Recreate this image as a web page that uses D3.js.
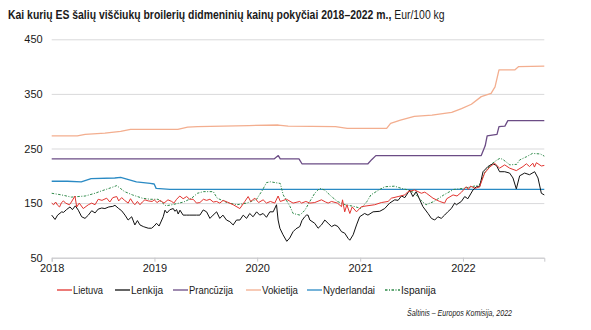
<!DOCTYPE html>
<meta charset="utf-8">
<style>
  body { margin: 0; background: #fff; }
  svg { display: block; font-family: "Liberation Sans", "DejaVu Sans", sans-serif; }
  .grid line { stroke: #d9d9db; }
  .grid .domain { display: none; }
  .grid text { fill: #1a1a1a; font-size: 11px; }
  .xaxis .domain, .xaxis line { stroke: #c8c8cc; }
  .xaxis text { fill: #1a1a1a; font-size: 11px; }
  .series { fill: none; stroke-linejoin: round; }
</style>
<body></body>
<script src="https://d3js.org/d3.v7.min.js"></script>
<script>

// [week since 2018-01-01, Eur/100 kg]
var lietuva = [[0,150],[1,147],[2,152],[3,146],[4,143],[5,151],[6,154],[7,150],[9,147],[10,152],[11.8,163],[12.7,143],[14,150],[16,140],[18.6,147],[20.3,150],[22,147],[23.6,157],[25.5,155],[27.9,159],[29.5,152],[31,160],[33,162],[34,154],[35.5,160],[37,155],[38.8,150],[40,158],[41.4,150],[42.2,147],[43.5,153],[44.8,147],[46,152],[47.3,156],[49,154],[51,153],[52,156],[53.5,151],[55,155],[57,150],[59,156],[60.9,153],[62,150],[63.4,157],[65,163],[66.7,158],[68.5,162],[70,157],[71.8,157],[73.5,150],[75.2,151],[77,157],[78.6,155],[80.3,157],[82,152],[83.7,153],[85.3,150],[87,155],[89,152],[92.1,147],[95.5,140],[98,153],[99.7,162],[101,153],[103.1,159],[105,151],[107.3,156],[109,150],[111,153],[113.2,150],[114.9,163],[116,153],[119.2,157],[122.5,150],[125.9,153],[126.8,150],[129,153],[131,150],[133.5,151],[136.9,156],[139,152],[140.3,150],[142,153],[145,150],[147.1,143.5],[147.6,156],[148.7,134],[149.8,147],[151.3,131],[152.5,143],[154.7,134],[157.2,143.5],[160,145],[163.9,147],[167.3,151],[170.7,153],[172.4,159],[175.8,162],[179.2,165],[180.8,171],[184.2,174],[187.6,168],[189.3,170],[190.2,168],[193.5,159],[196.9,153],[199.4,150],[200.5,158],[203.7,165],[205.7,163],[208,170],[210.4,180],[211.5,175],[212.5,181],[215,177],[217.2,180],[219.7,205],[222.3,216],[224.8,223],[227.3,214],[229.9,220],[232.4,214],[235.8,209.5],[239.2,217],[240.9,222],[242.5,217],[244.2,223],[245,216],[246,224],[248.5,218],[250,219]];

var lenkija = [[0,128],[1.7,120],[3,128],[5.1,134],[6,133],[7.5,138],[9.3,143],[10.5,138],[12,145],[13.5,137],[15.2,125],[16.9,122],[18.6,128],[20.3,136],[22,132],[23.6,139],[25.4,141],[27,140],[29,143],[31,144],[32.1,146],[34,140],[35.5,136],[37.2,128],[38.8,119],[40.6,125],[42.2,110],[43.5,118],[44.8,110],[46.5,107],[47.3,106],[49,104],[50.7,104],[52,108],[53.2,113],[54.5,108],[56.6,125],[57.5,137],[58.5,132],[60,138],[61.7,140],[62.5,135],[63.4,138],[64.2,130],[65.1,137],[66.7,128],[68.5,128],[70.1,128],[73.5,128],[75.2,128],[76.9,137.5],[78.6,134],[80.3,122],[81.9,128],[83.7,134],[85.3,122],[86.9,128],[88.7,119],[90.4,116],[92.1,110],[93.8,119],[95.5,119],[97.2,128],[98.9,122],[100.5,131],[102.2,125],[104,134],[105.6,128],[107.3,131],[109,124],[110.7,134],[112.4,134],[114.1,147],[114.9,119],[115.8,104],[117.4,92],[119.3,80],[120.8,86],[122.5,97.6],[124,103],[125.9,107],[127,118],[128.4,125],[129.3,128],[130.1,128],[131,119],[133.5,113],[135.2,104],[136.9,110],[138.6,119],[140.3,113],[142,107],[143.7,110],[145.3,107],[147.1,97.6],[148.7,95],[150.4,85.5],[151.3,82],[153,92],[154.7,110],[156.3,125],[158.8,131],[160.5,128],[163.1,134],[166.5,135],[169,140],[171.5,150],[174.1,156],[175.8,155],[177.5,163],[179.2,160],[181.7,174],[183.3,162],[185,171],[186.8,156],[188.4,143.5],[191,131],[192.7,122],[194.4,119],[196,125],[197.7,122],[199.4,128],[201,134],[202.8,140],[204.5,150],[205.4,147],[207.9,153],[209.6,162],[211.2,158],[213.8,174],[215.5,180],[217.2,180],[218.9,207.5],[221.4,217],[223.9,222],[225.7,219],[227.3,207.5],[229.9,207.5],[232.4,205],[234.1,196],[235.8,176],[237.5,200],[240,205],[242.5,202],[245.1,207.5],[246.8,196],[248.5,168],[250,165]];

var prancuzija = [[0,231],[113,231],[115,237],[116,231],[125.5,231],[127,222],[160.5,222],[162.5,230],[164.5,237],[218,237],[220,255],[221,273],[226,276],[227,290],[230,291],[231.5,301],[250,301]];

var vokietija = [[0,273],[13,273],[17,276],[27,278],[35,281.5],[40,285],[64,285],[69,289],[74,290],[100,292],[115,293],[120,291],[144,290],[150,287],[170,287],[172,296],[177,302],[184,309],[193,311],[203,316],[208,323],[213,331],[218,345],[223,351],[225,363],[227,394],[235,394],[237,400],[250,401]];

var nyderlandai = [[0,190],[8,190],[15,189],[20,195],[32,196],[35,197],[43,189],[50,186],[52,185],[53,177],[60,175],[250,175]];

var ispanija = [[0,168],[5,165],[10,161],[17,163],[22,168],[25,172],[30,178],[33,182],[37,171],[41,165],[46,159],[50,157],[54,157],[58,145],[61,147],[67,152],[71,159],[74,168],[77,171],[82,171],[84,159],[89,151],[94,147],[99,150],[104,157],[107,174],[109,187.5],[111,189],[116,186],[117.5,165],[121,143.5],[122.5,131],[126,128],[128.5,137],[131,153],[133.5,168],[136,177],[138.5,174],[142,162],[145,153],[149,147],[154,143.5],[157,140],[160,153],[162,165],[166,174],[169,180],[174,181],[177.5,177],[181,174],[184,169],[188,153],[190,147],[194,153],[199,165],[204,175],[209,177],[213,180],[217,183],[220,207.5],[223,221],[226,229],[227.5,232],[229,230],[232.5,220],[236,221],[237.5,229],[241,235],[244,241],[248,240],[250,236]];

var yTicks = [50, 150, 250, 350, 450];
var years = [2018, 2019, 2020, 2021, 2022];

var series = [
  {name: "Lietuva", data: lietuva, color: "#e2342f", width: 1},
  {name: "Lenkija", data: lenkija, color: "#111111", width: 1},
  {name: "Prancūzija", data: prancuzija, color: "#6b4c85", width: 1.3},
  {name: "Vokietija", data: vokietija, color: "#f3ae8f", width: 1.3},
  {name: "Nyderlandai", data: nyderlandai, color: "#2a8ac4", width: 1.3},
  {name: "Ispanija", data: ispanija, color: "#2f8a4a", width: 1, dash: "2.5,1.5,1,1.5"}
];

var W = 591, H = 330;
var mLeft = 51.7, mRight = 544.3, mTop = 39.3, mBottom = 257.7;

var start = new Date(2018, 0, 1);
function weekDate(w) { return new Date(start.getTime() + w * 7 * 864e5); }

var x = d3.scaleTime().domain([start, weekDate(250)]).range([mLeft, mRight]);
var y = d3.scaleLinear().domain([50, 450]).range([mBottom, mTop]);

var svg = d3.select("body").append("svg")
    .attr("width", W)
    .attr("height", H);

svg.append("rect").attr("width", W).attr("height", H).attr("fill", "#fff");

// title: one text, squeezed horizontally to the reference width
var titleG = svg.append("g");
var title = titleG.append("text")
    .attr("font-size", 12.5)
    .attr("fill", "#1a1a1a");
title.append("tspan").attr("font-weight", "bold")
    .text("Kai kurių ES šalių viščiukų broilerių didmeninių kainų pokyčiai 2018–2022 m.,");
title.append("tspan").text(" Eur/100 kg");
var tw = title.node().getComputedTextLength();
titleG.attr("transform", "translate(8,19) scale(" + (437 / tw) + ",1)");

svg.append("g")
    .attr("class", "grid")
    .attr("transform", "translate(" + mLeft + ",0)")
    .call(d3.axisLeft(y).tickValues(yTicks).tickSize(-(mRight - mLeft)).tickPadding(9));

svg.append("g")
    .attr("class", "xaxis")
    .attr("transform", "translate(0," + mBottom + ")")
    .call(d3.axisBottom(x)
      .tickValues(years.map(function (yr) { return new Date(yr, 0, 1); }))
      .tickFormat(d3.timeFormat("%Y"))
      .tickSize(4).tickPadding(3));

var line = d3.line()
    .x(function (d) { return x(weekDate(d[0])); })
    .y(function (d) { return y(d[1]); });

// draw order: background series first
[3, 2, 4, 5, 1, 0].forEach(function (i) {
  var s = series[i];
  svg.append("path")
    .attr("class", "series")
    .attr("d", line(s.data))
    .attr("stroke", s.color)
    .attr("stroke-width", s.width)
    .attr("stroke-dasharray", s.dash || null);
});

var legendX = [57, 115, 173, 246, 307, 385];
var legendW = [30, 32, 44, 36, 52, 35];
var legend = svg.append("g").attr("transform", "translate(0,290)");
series.forEach(function (s, i) {
  var g = legend.append("g").attr("transform", "translate(" + legendX[i] + ",0)");
  g.append("line")
    .attr("x1", 0).attr("x2", 15)
    .attr("stroke", s.color).attr("stroke-width", 1.3)
    .attr("stroke-dasharray", s.dash || null);
  g.append("text")
    .attr("x", 16).attr("y", 4)
    .attr("font-size", 11)
    .attr("fill", "#1a1a1a")
    .attr("textLength", legendW[i])
    .attr("lengthAdjust", "spacingAndGlyphs")
    .text(s.name);
});

svg.append("text")
    .attr("x", 512).attr("y", 316)
    .attr("text-anchor", "end")
    .attr("font-size", 9)
    .attr("font-style", "italic")
    .attr("fill", "#1a1a1a")
    .attr("textLength", 105)
    .attr("lengthAdjust", "spacingAndGlyphs")
    .text("Šaltinis – Europos Komisija, 2022");

</script>
